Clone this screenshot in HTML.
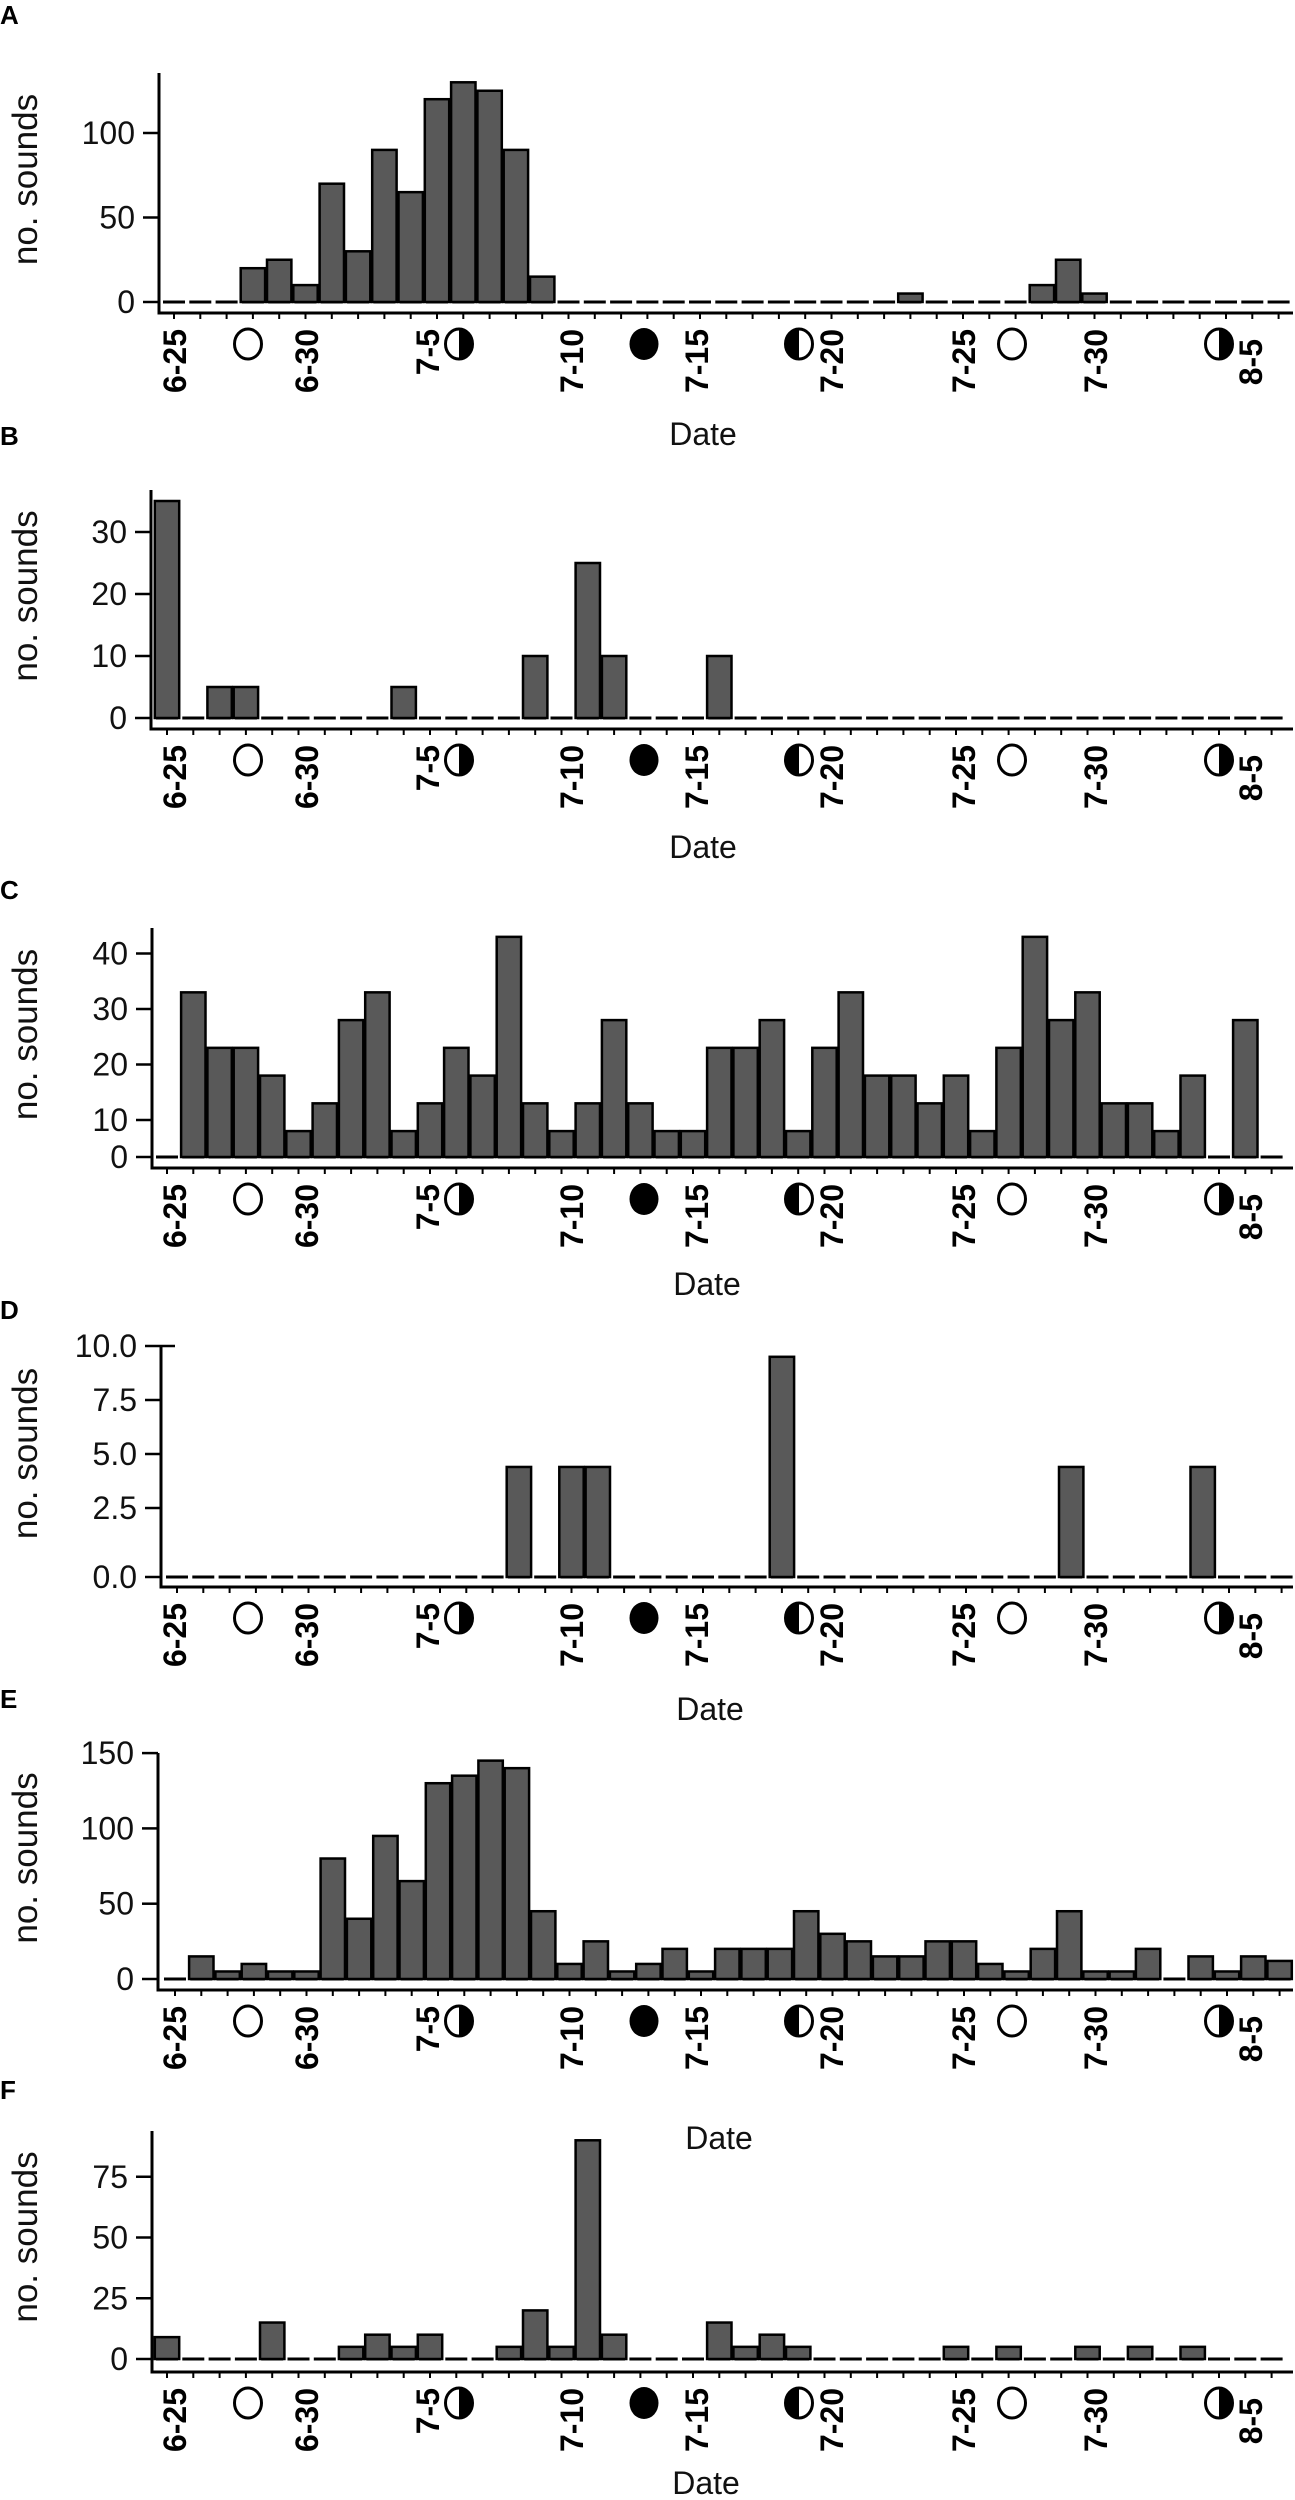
<!DOCTYPE html>
<html><head><meta charset="utf-8"><title>Daily sound counts, panels A–F</title>
<style>
html,body{margin:0;padding:0;background:#fff;}
svg{display:block;font-family:"Liberation Sans",Arial,sans-serif;}
</style></head>
<body>
<svg id="fig" width="1295" height="2500" viewBox="0 0 1295 2500" xmlns="http://www.w3.org/2000/svg"></svg>
<script>
// ---- data (one slot per day, 6-25 .. 8-6) ----
const dateLabels = ["6-25","6-30","7-5","7-10","7-15","7-20","7-25","7-30","8-5"];
const dateLabelX = [175,307,428,572,697,832,964,1096,1251];
const moonPhases = ["full","first","new","last","full","first"];
const moonX = [248,459,644,799,1012,1219];

const valuesA = [0,0,0,20,25,10,70,30,90,65,120,130,125,90,15,0,0,0,0,0,0,0,0,0,0,0,0,0,5,0,0,0,0,10,25,5,0,0,0,0,0,0,0];
const valuesB = [35,0,5,5,0,0,0,0,0,5,0,0,0,0,10,0,25,10,0,0,0,10,0,0,0,0,0,0,0,0,0,0,0,0,0,0,0,0,0,0,0,0,0];
const valuesC = [0,33,23,23,18,8,13,28,33,8,13,23,18,43,13,8,13,28,13,8,8,23,23,28,8,23,33,18,18,13,18,8,23,43,28,33,13,13,8,18,0,28,0];
const valuesD = [0,0,0,0,0,0,0,0,0,0,0,0,0,4.4,0,4.4,4.4,0,0,0,0,0,0,9.5,0,0,0,0,0,0,0,0,0,0,4.4,0,0,0,0,4.4,0,0,0];
const valuesE = [0,15,5,10,5,5,80,40,95,65,130,135,145,140,45,10,25,5,10,20,5,20,20,20,45,30,25,15,15,25,25,10,5,20,45,5,5,20,0,15,5,15,12];
const valuesF = [9,0,0,0,15,0,0,5,10,5,10,0,0,5,20,5,90,10,0,0,0,15,5,10,5,0,0,0,0,0,5,0,5,0,0,5,0,5,0,5,0,0,0];

const ticksA = [0,50,100];
const ticksB = [0,10,20,30];
const ticksC = [0,10,20,30,40];
const ticksD = [0,2.5,5,7.5,10];
const ticksE = [0,50,100,150];
const ticksF = [0,25,50,75];

const NS = "http://www.w3.org/2000/svg";
const svg = document.getElementById("fig");
const SLOT = 26.3;

function mk(tag, attrs, parent){
  const e = document.createElementNS(NS, tag);
  for (const k in attrs) e.setAttribute(k, attrs[k]);
  (parent||svg).appendChild(e);
  return e;
}

const panels = [
  {id:"a", letter:"A", vals:valuesA, ticks:ticksA, dec:0, axisX:159, top:73,  y0:302,    ppu:1.69,  base:302,  line:313,  s0:174, ly:24,   dateY:445,  dateX:703},
  {id:"b", letter:"B", vals:valuesB, ticks:ticksB, dec:0, axisX:151, top:490, y0:718,    ppu:6.2,   base:718,  line:729,  s0:167, ly:445,  dateY:858,  dateX:703},
  {id:"c", letter:"C", vals:valuesC, ticks:ticksC, dec:0, axisX:152, top:928, y0:1175.5, ppu:5.55,  base:1157, line:1168, s0:167, ly:899,  dateY:1295, dateX:707},
  {id:"d", letter:"D", vals:valuesD, ticks:ticksD, dec:1, axisX:161, top:1346,y0:1562,   ppu:21.6,  base:1577, line:1587, s0:177, ly:1319, dateY:1720, dateX:710},
  {id:"e", letter:"E", vals:valuesE, ticks:ticksE, dec:0, axisX:158, top:1753,y0:1979,   ppu:1.506, base:1979, line:1990, s0:175, ly:1708, dateY:2149, dateX:719},
  {id:"f", letter:"F", vals:valuesF, ticks:ticksF, dec:0, axisX:152, top:2131,y0:2359,   ppu:2.43,  base:2359, line:2372, s0:167, ly:2099, dateY:2494, dateX:706}
];

panels.forEach(function(p){
  const g = mk("g", {});
  
  
  const xs = function(i){ return p.s0 + i*SLOT; };
  const ys = function(v){ return v === 0 ? p.base : p.y0 - v*p.ppu; };

  const letter = mk("text", {x:0, y:p.ly, "font-size":26, "font-weight":"bold"}, g);
  letter.textContent = p.letter;
  
  

  for (let i = 0; i < p.vals.length; i++) {
    const d = mk("line", {x1:xs(i)-11, x2:xs(i)+11, y1:p.base, y2:p.base, stroke:"#000", "stroke-width":3}, g);
    
    
  }
  for (let i = 0; i < p.vals.length; i++) {
    const v = p.vals[i];
    if (v <= 0) continue;
    const yt = ys(v);
    const r = mk("rect", {x:xs(i)-12.2, y:yt, width:24.4, height:p.base-yt, fill:"#595959", stroke:"#000", "stroke-width":2.5}, g);
    
    
  }
  const ya = mk("line", {x1:p.axisX, x2:p.axisX, y1:p.top, y2:p.line+1.5, stroke:"#000", "stroke-width":3}, g);
  
  
  p.ticks.forEach(function(t){
    const ty = ys(t);
    const tk = mk("line", {x1:p.axisX-16, x2:p.axisX, y1:ty, y2:ty, stroke:"#000", "stroke-width":2.5}, g);
    
    
    const tl = mk("text", {x:p.axisX-24, y:ty+11, "font-size":32, "text-anchor":"end", fill:"#111"}, g);
    tl.textContent = p.dec ? t.toFixed(1) : String(t);
    
    
  });
  if (p.id === "d") {
    const tr = mk("line", {x1:p.axisX, x2:p.axisX+14, y1:ys(10), y2:ys(10), stroke:"#000", "stroke-width":2.5}, g);
    
    
  }
  const title = mk("text", {x:0, y:0, "font-size":35, "text-anchor":"middle", fill:"#111",
    transform:"translate(37," + ((p.top+p.base)/2 - 8) + ") rotate(-90)"}, g);
  title.textContent = "no. sounds";
  
  

  const xa = mk("line", {x1:p.axisX-1.5, x2:1293, y1:p.line, y2:p.line, stroke:"#000", "stroke-width":3}, g);
  
  
  for (let i = 0; i < p.vals.length; i++) {
    const xt = mk("line", {x1:xs(i), x2:xs(i), y1:p.line, y2:p.line+6, stroke:"#000", "stroke-width":2}, g);
    
    
  }
  dateLabels.forEach(function(lab, k){
    const top = p.line + (lab === "8-5" ? 26 : 16);
    const t = mk("text", {x:0, y:0, "font-size":32, "font-weight":"bold", "text-anchor":"end",
      transform:"translate(" + (dateLabelX[k]+11) + "," + top + ") rotate(-90)"}, g);
    t.textContent = lab;
    
    
  });
  moonPhases.forEach(function(ph, k){
    const cx = moonX[k], cy = p.line + 31, rx = 13.5, ry = 15;
    const mg = mk("g", {}, g);
    
    
    if (ph === "new") {
      mk("ellipse", {cx:cx, cy:cy, rx:rx+1, ry:ry+1, fill:"#000"}, mg);
    } else {
      mk("ellipse", {cx:cx, cy:cy, rx:rx, ry:ry, fill:"#fff", stroke:"#000", "stroke-width":3}, mg);
      if (ph === "first") {
        mk("path", {d:"M" + cx + "," + (cy-ry) + " A" + rx + "," + ry + " 0 0 1 " + cx + "," + (cy+ry) + " Z", fill:"#000"}, mg);
      } else if (ph === "last") {
        mk("path", {d:"M" + cx + "," + (cy-ry) + " A" + rx + "," + ry + " 0 0 0 " + cx + "," + (cy+ry) + " Z", fill:"#000"}, mg);
      }
    }
  });
  const dt = mk("text", {x:p.dateX, y:p.dateY, "font-size":32, "text-anchor":"middle", fill:"#111"}, g);
  dt.textContent = "Date";
  
  
});
</script>
</body></html>
